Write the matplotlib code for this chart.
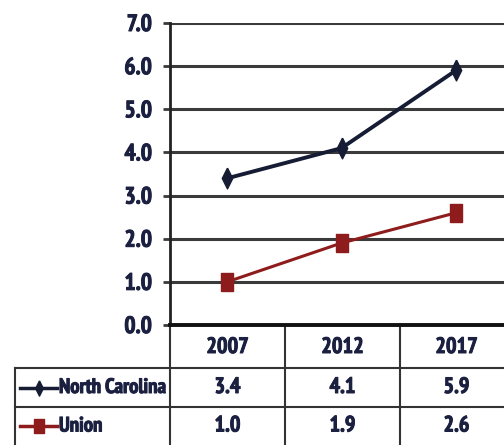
import matplotlib
matplotlib.use("Agg")
import matplotlib.pyplot as plt
from matplotlib.lines import Line2D
import matplotlib.patheffects as pe

years = ["2007", "2012", "2017"]
series_names = ["North Carolina", "Union"]
nc_values = [3.4, 4.1, 5.9]
union_values = [1.0, 1.9, 2.6]
y_ticks = [0.0, 1.0, 2.0, 3.0, 4.0, 5.0, 6.0, 7.0]

plt.rcParams["font.family"] = ["PT Sans Narrow", "DejaVu Sans"]
plt.rcParams["font.weight"] = "bold"

text_color = "#1b2040"
nc_color = "#161c33"
union_color = "#8e1c1c"
grid_color = "#3a3a3a"
heavy = [pe.withStroke(linewidth=0.7, foreground=text_color)]

# tall diamond and tall box markers
tall_diamond = [(0, 1), (0.5, 0), (0, -1), (-0.5, 0), (0, 1)]
tall_box = [(-0.7, -1), (0.7, -1), (0.7, 1), (-0.7, 1), (-0.7, -1)]

W, H = 504, 445
fig = plt.figure(figsize=(W / 100, H / 100), dpi=100)

def fx(px):
    return px / W

def fy(py):
    return 1 - py / H

# plot area
ax_left, ax_right, ax_top, ax_bottom = 170, 513, 23, 325
ax = fig.add_axes([fx(ax_left), fy(ax_bottom), fx(ax_right - ax_left), (ax_bottom - ax_top) / H])
x = range(len(years))
ax.plot(x, nc_values, color=nc_color, lw=2.8, marker=tall_diamond, ms=15, zorder=3)
ax.plot(x, union_values, color=union_color, lw=2.2, marker=tall_box, ms=13, zorder=3)
ax.set_xlim(-0.5, len(years) - 0.5)
ax.set_ylim(0, 7)
ax.set_yticks(y_ticks)
ax.set_yticklabels([f"{v:.1f}" for v in y_ticks], fontsize=17, color=text_color, fontweight="bold")
for t in ax.get_yticklabels():
    t.set_path_effects(heavy)
ax.set_xticks([])
ax.grid(axis="y", color=grid_color, lw=2.2)
ax.set_axisbelow(True)
ax.tick_params(axis="y", length=5, width=2, color=grid_color, pad=8)
for side in ["top", "right", "bottom"]:
    ax.spines[side].set_visible(False)
ax.spines["left"].set_linewidth(2)
ax.spines["left"].set_color("#222222")

# data table under the chart
col_edges = [170, 285, 400, 513]
row_edges = [325, 368, 407, 445]
label_left = 15
lw = 1.5
lc = "#333333"
for cx in col_edges:
    fig.add_artist(Line2D([fx(cx), fx(cx)], [fy(row_edges[0]), fy(row_edges[-1])], color=lc, lw=lw))
fig.add_artist(Line2D([fx(label_left), fx(label_left)], [fy(row_edges[1]), fy(row_edges[-1])], color=lc, lw=lw))
fig.add_artist(Line2D([fx(ax_left), fx(ax_right)], [fy(row_edges[0]), fy(row_edges[0])], color="#111111", lw=2.8))
for ry in row_edges[1:3]:
    fig.add_artist(Line2D([fx(label_left), fx(ax_right)], [fy(ry), fy(ry)], color=lc, lw=lw))

for i, yr in enumerate(years):
    cx = (col_edges[i] + col_edges[i + 1]) / 2
    fig.text(fx(cx), fy((row_edges[0] + row_edges[1]) / 2 + 1), yr, ha="center", va="center",
             fontsize=16, color=text_color, fontweight="bold", path_effects=heavy)

rows = [(series_names[0], nc_values, nc_color, tall_diamond, 11),
        (series_names[1], union_values, union_color, tall_box, 10)]
for r, (name, vals, color, mk, ms) in enumerate(rows):
    cy = fy((row_edges[r + 1] + row_edges[r + 2]) / 2)
    fig.add_artist(Line2D([fx(20), fx(57)], [cy, cy], color=color, lw=2.5))
    fig.add_artist(Line2D([fx(38.5)], [cy], color=color, marker=mk, ms=ms))
    fig.text(fx(59), cy, name, ha="left", va="center", fontsize=15, color=text_color,
             fontweight="bold", path_effects=heavy)
    for i, v in enumerate(vals):
        cx = (col_edges[i] + col_edges[i + 1]) / 2
        fig.text(fx(cx), cy, f"{v:.1f}", ha="center", va="center",
                 fontsize=16, color=text_color, fontweight="bold", path_effects=heavy)

fig.savefig("out.png", dpi=100)
